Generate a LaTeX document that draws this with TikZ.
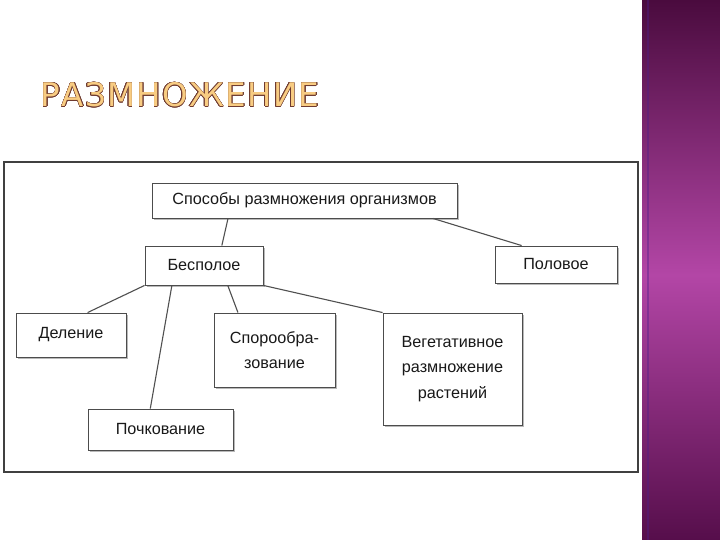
\documentclass[tikz,border=0pt]{standalone}
\usepackage{fontspec}
\setmainfont{Liberation Sans}
\newfontfamily\titlefont[LetterSpace=4]{DejaVu Sans}
\usepackage{contour}
\usetikzlibrary{calc,shadows}
\definecolor{plumdark}{HTML}{4A0B3E}
\definecolor{plummid}{HTML}{B346A6}
\definecolor{plumlow}{HTML}{560E4B}
\definecolor{peach}{HTML}{F8CC82}
\definecolor{rust}{HTML}{6E3A30}
\definecolor{edge}{HTML}{505050}
\contourlength{0.5pt}

\begin{document}
\begin{tikzpicture}[
  x=1pt, y=-1pt,
  box/.style={rectangle, draw=black!70, line width=0.9pt, fill=white,
              align=center, inner sep=0pt, text=black!90,
              font=\fontsize{16.2}{25.5}\selectfont,
              drop shadow={shadow xshift=2pt, shadow yshift=-2pt,
                           fill=gray!55, opacity=1}},
  link/.style={draw=edge, line width=1.1pt}
]
\useasboundingbox (0,0) rectangle (720,540);
\fill[white] (0,0) rectangle (720,540);

% purple side strip
\shade[top color=plumdark, bottom color=plummid] (642,0) rectangle (720,275);
\shade[top color=plummid, bottom color=plumlow] (642,275) rectangle (720,540);
\draw[plummid!60!blue!70!black, line width=2pt, opacity=0.4] (648,0) -- (648,540);

% title
\node[font=\titlefont\fontsize{32.5}{33}\selectfont] (title) at (180,95)
  {\contour{rust}{\textcolor{peach}{РАЗМНОЖЕНИЕ}}};

% frame of the scheme
\draw[black!75, line width=2.6pt] (4,162) rectangle (638,472);

% nodes
\node[box, minimum width=305, minimum height=35] (root) at (304.5,200.5)
  {Способы размножения организмов};
\node[box, minimum width=118, minimum height=39] (asex) at (204,265.5) {Бесполое};
\node[box, minimum width=122, minimum height=37] (sex) at (556,264.5) {Половое};
\node[box, minimum width=110, minimum height=44] (divide) at (71,335) {Деление};
\node[box, minimum width=121, minimum height=74] (spore) at (274.5,350)
  {Спорообра-\\зование};
\node[box, minimum width=145, minimum height=41] (bud) at (160.5,429.5) {Почкование};
\node[box, minimum width=139, minimum height=112] (veg) at (452.5,369)
  {Вегетативное\\размножение\\растений};

% connectors
\draw[link] ($(root.south west)!0.25!(root.south east)$) -- ($(asex.north west)!0.65!(asex.north east)$);
\draw[link] ($(root.south west)!0.92!(root.south east)$) -- ($(sex.north west)!0.22!(sex.north east)$);
\draw[link] (asex.south west) -- ($(divide.north west)!0.65!(divide.north east)$);
\draw[link] ($(asex.south west)!0.23!(asex.south east)$) -- ($(bud.north west)!0.43!(bud.north east)$);
\draw[link] ($(asex.south west)!0.70!(asex.south east)$) -- ($(spore.north west)!0.2!(spore.north east)$);
\draw[link] (asex.south east) -- (veg.north west);
\end{tikzpicture}
\end{document}
